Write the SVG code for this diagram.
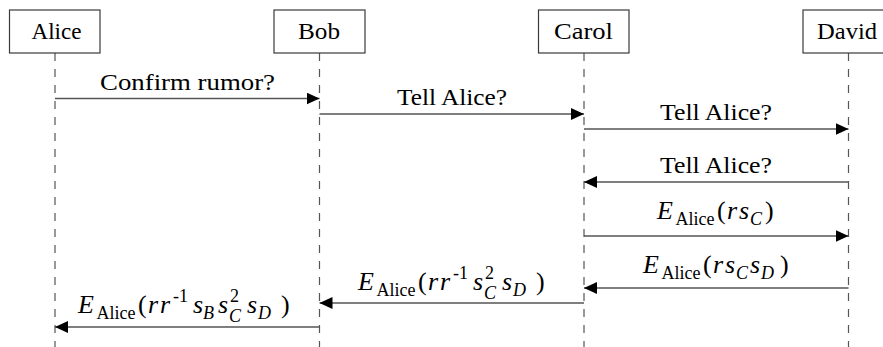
<svg xmlns="http://www.w3.org/2000/svg" width="883" height="347" viewBox="0 0 883 347">
  <defs>
    <marker id="ah" viewBox="0 0 13 12" refX="13" refY="6" markerWidth="13" markerHeight="12" markerUnits="userSpaceOnUse" orient="auto">
      <path d="M0,0 L13,6 L0,12 Z" fill="#000"/>
    </marker>
  </defs>
  <rect width="883" height="347" fill="#fff"/>

  <!-- participants: box, name and dashed lifeline -->
  <g id="alice">
    <line x1="55" y1="53" x2="55" y2="347" stroke="#555" stroke-width="1.2" stroke-dasharray="8 8"/>
    <rect x="9.5" y="10" width="90.5" height="43" fill="#fff" stroke="#3a3a3a" stroke-width="1.2"/>
    <text x="56.5" y="39" font-family="Liberation Serif" font-size="24" text-anchor="middle" textLength="50" lengthAdjust="spacingAndGlyphs">Alice</text>
  </g>
  <g id="bob">
    <line x1="319.5" y1="53" x2="319.5" y2="347" stroke="#555" stroke-width="1.2" stroke-dasharray="8 8"/>
    <rect x="274" y="10" width="91" height="43" fill="#fff" stroke="#3a3a3a" stroke-width="1.2"/>
    <text x="319" y="39" font-family="Liberation Serif" font-size="24" text-anchor="middle" textLength="42" lengthAdjust="spacingAndGlyphs">Bob</text>
  </g>
  <g id="carol">
    <line x1="584" y1="53" x2="584" y2="347" stroke="#555" stroke-width="1.2" stroke-dasharray="8 8"/>
    <rect x="538.5" y="10" width="90.5" height="43" fill="#fff" stroke="#3a3a3a" stroke-width="1.2"/>
    <text x="583.5" y="39" font-family="Liberation Serif" font-size="24" text-anchor="middle" textLength="59" lengthAdjust="spacingAndGlyphs">Carol</text>
  </g>
  <g id="david">
    <line x1="848.5" y1="53" x2="848.5" y2="347" stroke="#555" stroke-width="1.2" stroke-dasharray="8 8"/>
    <rect x="803" y="10" width="91" height="43" fill="#fff" stroke="#3a3a3a" stroke-width="1.2"/>
    <text x="847" y="39" font-family="Liberation Serif" font-size="24" text-anchor="middle" textLength="60" lengthAdjust="spacingAndGlyphs">David</text>
  </g>

  <!-- messages -->
  <g id="messages" stroke="#555" stroke-width="1.4" fill="none" marker-end="url(#ah)">
    <line x1="55" y1="98.5" x2="319.5" y2="98.5"/>
    <line x1="319.5" y1="114" x2="584" y2="114"/>
    <line x1="584" y1="129" x2="848.5" y2="129"/>
    <line x1="848.5" y1="182" x2="584" y2="182"/>
    <line x1="584" y1="236" x2="848.5" y2="236"/>
    <line x1="848.5" y1="288" x2="584" y2="288"/>
    <line x1="584" y1="303" x2="319.5" y2="303"/>
    <line x1="319.5" y1="327" x2="55" y2="327"/>
  </g>

  <!-- message labels -->
  <g id="labels">
    <text x="187.5" y="90" font-family="Liberation Serif" font-size="24" text-anchor="middle" textLength="175" lengthAdjust="spacingAndGlyphs">Confirm rumor?</text>
    <text x="452" y="104.5" font-family="Liberation Serif" font-size="24" text-anchor="middle" textLength="110" lengthAdjust="spacingAndGlyphs">Tell Alice?</text>
    <text x="716" y="120" font-family="Liberation Serif" font-size="24" text-anchor="middle" textLength="112" lengthAdjust="spacingAndGlyphs">Tell Alice?</text>
    <text x="716" y="173" font-family="Liberation Serif" font-size="24" text-anchor="middle" textLength="112" lengthAdjust="spacingAndGlyphs">Tell Alice?</text>

    <!-- E_Alice(r s_C) -->
    <text y="219" font-family="Liberation Serif" font-size="26"><tspan x="657" font-style="italic">E</tspan><tspan x="675.5" y="225" font-size="18">Alice</tspan><tspan x="717" y="219">(</tspan><tspan x="727" font-style="italic">r</tspan><tspan x="739" font-style="italic">s</tspan><tspan x="750" y="225" font-size="18" font-style="italic">C</tspan><tspan x="765" y="219">)</tspan></text>

    <!-- E_Alice(r s_C s_D) -->
    <text y="273" font-family="Liberation Serif" font-size="26"><tspan x="643" font-style="italic">E</tspan><tspan x="661.5" y="279" font-size="18">Alice</tspan><tspan x="703" y="273">(</tspan><tspan x="713" font-style="italic">r</tspan><tspan x="725" font-style="italic">s</tspan><tspan x="736" y="279" font-size="18" font-style="italic">C</tspan><tspan x="750" y="273" font-style="italic">s</tspan><tspan x="761" y="279" font-size="18" font-style="italic">D</tspan><tspan x="780" y="273">)</tspan></text>

    <!-- E_Alice(r r^-1 s_C^2 s_D) -->
    <text y="290" font-family="Liberation Serif" font-size="26"><tspan x="358" font-style="italic">E</tspan><tspan x="376.5" y="296" font-size="18">Alice</tspan><tspan x="418" y="290">(</tspan><tspan x="428" font-style="italic">r</tspan><tspan x="440" font-style="italic">r</tspan><tspan x="453" y="279" font-size="18">-1</tspan><tspan x="473" y="290" font-style="italic">s</tspan><tspan x="485" y="279" font-size="18">2</tspan><tspan x="484" y="299" font-size="18" font-style="italic">C</tspan><tspan x="502" y="290" font-style="italic">s</tspan><tspan x="513" y="296" font-size="18" font-style="italic">D</tspan><tspan x="536" y="290">)</tspan></text>

    <!-- E_Alice(r r^-1 s_B s_C^2 s_D) -->
    <text y="313" font-family="Liberation Serif" font-size="26"><tspan x="78" font-style="italic">E</tspan><tspan x="96.5" y="319" font-size="18">Alice</tspan><tspan x="138" y="313">(</tspan><tspan x="148" font-style="italic">r</tspan><tspan x="160" font-style="italic">r</tspan><tspan x="173" y="302" font-size="18">-1</tspan><tspan x="193" y="313" font-style="italic">s</tspan><tspan x="203" y="319" font-size="18" font-style="italic">B</tspan><tspan x="218" y="313" font-style="italic">s</tspan><tspan x="230" y="302" font-size="18">2</tspan><tspan x="229" y="322" font-size="18" font-style="italic">C</tspan><tspan x="247" y="313" font-style="italic">s</tspan><tspan x="258" y="319" font-size="18" font-style="italic">D</tspan><tspan x="281" y="313">)</tspan></text>
  </g>
</svg>
